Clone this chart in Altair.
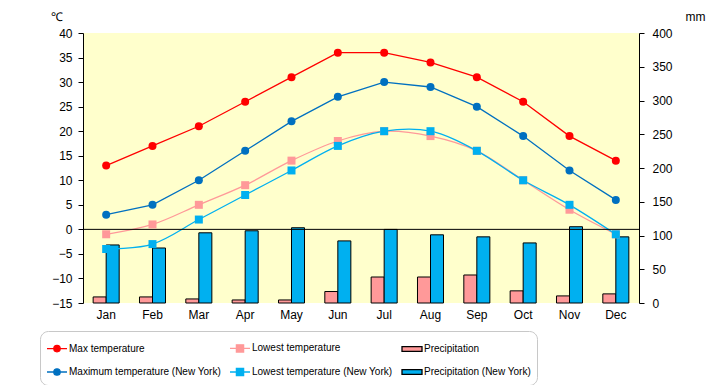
import altair as alt
import pandas as pd

months = ["Jan", "Feb", "Mar", "Apr", "May", "Jun", "Jul", "Aug", "Sep", "Oct", "Nov", "Dec"]
max_temp = [13, 17, 21, 26, 31, 36, 36, 34, 31, 26, 19, 14]
low_temp = [-1, 1, 5, 9, 14, 18, 20, 19, 16, 10, 4, -1]
precip = [9, 9, 6, 4.5, 4.5, 17, 38.5, 38.5, 41.5, 18, 10.5, 13.5]
ny_max_temp = [3, 5, 10, 16, 22, 27, 30, 29, 25, 19, 12, 6]
ny_low_temp = [-4, -3, 2, 7, 12, 17, 20, 20, 16, 10, 5, -1]
ny_precip = [86, 81.5, 104, 107, 111.5, 92, 109, 101, 98, 89, 113, 98]

S_MAX = "Max temperature"
S_LOW = "Lowest temperature"
S_PRE = "Precipitation"
S_NMAX = "Maximum temperature (New York)"
S_NLOW = "Lowest temperature (New York)"
S_NPRE = "Precipitation (New York)"
# legend grid is filled column by column (2 rows x 3 columns)
series_domain = [S_MAX, S_NMAX, S_LOW, S_NLOW, S_PRE, S_NPRE]
fill_colors = ["#FF0000", "#0070C0", "#FF9999", "#00B0F0", "#FF9999", "#00B0F0"]
stroke_colors = ["#FF0000", "#0070C0", "#FF9999", "#00B0F0", "#000000", "#000000"]

P_CIRC = "M-1,0L1,0M0.32,0A0.32,0.32,0,1,1,-0.32,0A0.32,0.32,0,1,1,0.32,0Z"
P_SQ = "M-1,0L1,0M-0.36,-0.36L0.36,-0.36L0.36,0.36L-0.36,0.36Z"
P_RECT = "M-1,-0.24L1,-0.24L1,0.24L-1,0.24Z"
legend_shapes = [P_CIRC, P_CIRC, P_SQ, P_SQ, P_RECT, P_RECT]


def long_df(mapping):
    rows = []
    for name, vals in mapping.items():
        for m, v in zip(months, vals):
            rows.append({"Month": m, "series": name, "value": v})
    return pd.DataFrame(rows)


max_df = long_df({S_MAX: max_temp, S_NMAX: ny_max_temp})
low_df = long_df({S_LOW: low_temp, S_NLOW: ny_low_temp})
pre_df = long_df({S_PRE: precip, S_NPRE: ny_precip})
zero_df = pd.DataFrame({"z": [0]})

FONT = "Liberation Sans, Arial, sans-serif"

legend = alt.Legend(
    title=None,
    orient="none",
    legendX=-43,
    legendY=298,
    columns=3,
    columnPadding=6,
    rowPadding=6,
    symbolSize=400,
    symbolStrokeWidth=1.3,
    symbolOpacity=1,
    labelFont=FONT,
    labelFontSize=10,
    labelColor="black",
    labelOffset=1,
    labelLimit=0,
    padding=6,
    strokeColor="#C8C8C8",
    fillColor="white",
    cornerRadius=8,
)

fill_enc = alt.Fill(
    "series:N", scale=alt.Scale(domain=series_domain, range=fill_colors), legend=legend
)
stroke_enc = alt.Stroke(
    "series:N", scale=alt.Scale(domain=series_domain, range=stroke_colors), legend=legend
)
shape_enc = alt.Shape(
    "series:N", scale=alt.Scale(domain=series_domain, range=legend_shapes), legend=legend
)

x_enc = alt.X(
    "Month:N",
    sort=months,
    scale=alt.Scale(domain=months, paddingInner=0, paddingOuter=0),
    axis=alt.Axis(
        title=None,
        labelAngle=0,
        ticks=False,
        domain=False,
        labelPadding=6,
        labelFont=FONT,
        labelFontSize=12,
        labelColor="black",
        grid=False,
    ),
)

temp_scale = alt.Scale(domain=[-15, 40], nice=False, zero=False)
temp_axis = alt.Axis(
    orient="left",
    values=list(range(-15, 41, 5)),
    grid=False,
    tickSize=5,
    tickColor="black",
    domainColor="black",
    labelPadding=6,
    labelFont=FONT,
    labelFontSize=12,
    labelColor="black",
    title="℃",
    titleAngle=0,
    titleX=-27,
    titleY=-17,
    titleAlign="center",
    titleBaseline="middle",
    titleFont=FONT,
    titleFontSize=12,
    titleFontWeight="normal",
    titleColor="black",
)

pre_scale = alt.Scale(domain=[0, 400], nice=False)
pre_axis = alt.Axis(
    orient="right",
    values=list(range(0, 401, 50)),
    grid=False,
    tickSize=5,
    tickColor="black",
    domainColor="black",
    labelPadding=8,
    labelFont=FONT,
    labelFontSize=12,
    labelColor="black",
    title="mm",
    titleAngle=0,
    titleX=56,
    titleY=-17,
    titleAlign="center",
    titleBaseline="middle",
    titleFont=FONT,
    titleFontSize=12,
    titleFontWeight="normal",
    titleColor="black",
)

y_temp = alt.Y("value:Q", scale=temp_scale, axis=temp_axis, title="℃")

bars = alt.Chart(pre_df).mark_bar(strokeWidth=1, opacity=1).encode(
    x=x_enc,
    xOffset=alt.XOffset(
        "series:N",
        sort=[S_PRE, S_NPRE],
        scale=alt.Scale(domain=[S_PRE, S_NPRE], paddingInner=0, paddingOuter=0.78),
    ),
    y=alt.Y("value:Q", scale=pre_scale, axis=pre_axis, title="mm"),
    fill=fill_enc,
    stroke=stroke_enc,
)

max_lines = alt.Chart(max_df).mark_line(strokeWidth=1.3).encode(
    x=x_enc, y=y_temp, stroke=stroke_enc
)
low_lines = alt.Chart(low_df).mark_line(strokeWidth=1.3, interpolate="cardinal").encode(
    x=x_enc, y=y_temp, stroke=stroke_enc
)
max_pts = alt.Chart(max_df).mark_point(filled=True, shape="circle", size=64, opacity=1).encode(
    x=x_enc, y=y_temp, fill=fill_enc
)
low_pts = alt.Chart(low_df).mark_point(filled=True, shape="square", size=64, opacity=1).encode(
    x=x_enc, y=y_temp, fill=fill_enc
)
zero_rule = alt.Chart(zero_df).mark_rule(color="black", strokeWidth=1).encode(
    y=alt.Y("z:Q", scale=temp_scale, axis=temp_axis, title="℃")
)
# legend-only layer (no rows survive the filter): supplies the legend symbol shapes
legend_layer = (
    alt.Chart(max_df)
    .transform_filter("datum.value > 1000")
    .mark_point(filled=True)
    .encode(x=x_enc, y=y_temp, fill=fill_enc, stroke=stroke_enc, shape=shape_enc)
)

temps = alt.layer(low_lines, max_lines, zero_rule, low_pts, max_pts, legend_layer)

chart = (
    alt.layer(bars, temps)
    .resolve_scale(y="independent")
    .properties(
        width=556,
        height=270,
        autosize=alt.AutoSizeParams(type="none"),
        padding={"left": 75, "top": 25, "right": 72, "bottom": 82},
        background="white",
    )
    .configure_view(fill="#FFFFCC", stroke=None)
)

chart.save("out.html", embed_options={"renderer": "svg", "actions": False})
